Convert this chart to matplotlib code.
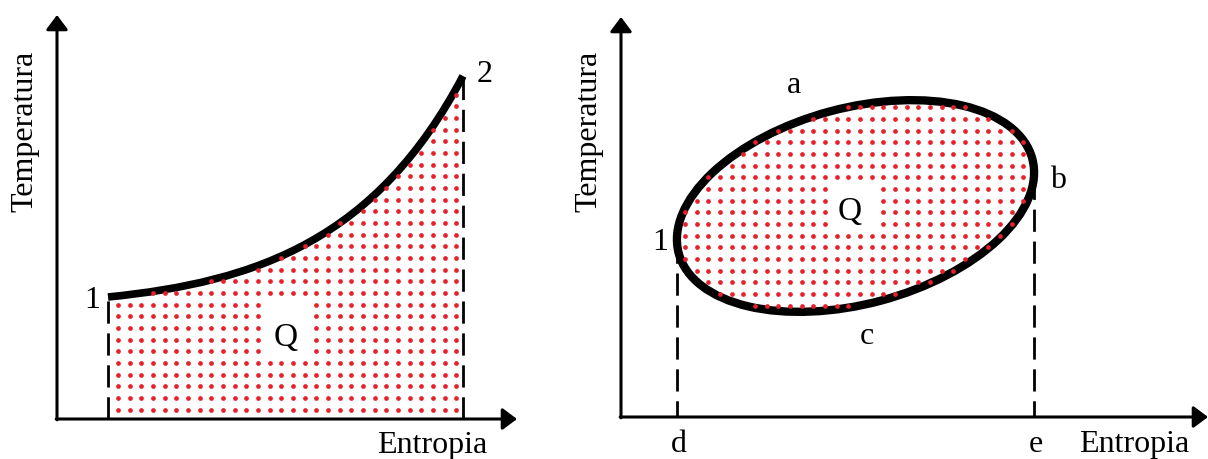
import numpy as np
import matplotlib.pyplot as plt
from matplotlib.path import Path
from matplotlib.patches import PathPatch, Ellipse

plt.rcParams['font.family'] = ['Liberation Serif', 'DejaVu Serif']
plt.rcParams['lines.scale_dashes'] = False

# Diagrama 1-2: calentamiento (entropia, temperatura)
s_12 = [51, 406]
T_12 = [122, 343]
ctrl_12 = [(201, 137), (320, 180)]   # puntos de control de la curva 1-2

# Diagrama del ciclo 1-a-b-c
cycle_center = (234.5, 211)
cycle_size = (366, 196)
cycle_angle = 15

DOT_STEP = 11.67
DOT_COLOR = '#e8202a'
FS = 23


def draw_axes(ax, xmax, ymax):
    for end in [(xmax, 0), (0, ymax)]:
        ax.annotate('', xy=end, xytext=(-0.8, 0) if end[1] == 0 else (0, -0.8),
                    annotation_clip=False,
                    arrowprops=dict(arrowstyle='-|>,head_length=0.4,head_width=0.3',
                                    mutation_scale=22, lw=2.2, color='black',
                                    shrinkA=0, shrinkB=0))


def dot_grid(x0, y0, xmax, ymax):
    xs = np.arange(x0, xmax, DOT_STEP)
    ys = np.arange(y0, ymax, DOT_STEP)
    gx, gy = np.meshgrid(xs, ys)
    return np.column_stack([gx.ravel(), gy.ravel()])


def drop_box(pts, cx, cy, w, h):
    keep = (np.abs(pts[:, 0] - cx) > w / 2) | (np.abs(pts[:, 1] - cy) > h / 2)
    return pts[keep]


fig = plt.figure(figsize=(12.08, 4.6), dpi=100)

# --- izquierda: proceso 1-2 ---
axL = fig.add_axes([57 / 1208, 40 / 460, 460 / 1208, 404 / 460])
axL.set_xlim(0, 460)
axL.set_ylim(0, 404)
axL.axis('off')

curve = Path([(s_12[0], T_12[0]), ctrl_12[0], ctrl_12[1], (s_12[1], T_12[1])],
             [Path.MOVETO, Path.CURVE4, Path.CURVE4, Path.CURVE4])
region = Path([(s_12[0], T_12[0]), ctrl_12[0], ctrl_12[1], (s_12[1], T_12[1]),
               (s_12[1], 0), (s_12[0], 0), (s_12[0], T_12[0])],
              [Path.MOVETO, Path.CURVE4, Path.CURVE4, Path.CURVE4,
               Path.LINETO, Path.LINETO, Path.CLOSEPOLY])
pts = dot_grid(2.65, 9.3, 460, 404)
poly = region.to_polygons()[0]
pts = pts[Path(poly).contains_points(pts)]
pts = drop_box(pts, 228.5, 91.5, 47, 59)
axL.plot(pts[:, 0], pts[:, 1], 'o', ms=3.4, mew=0, color=DOT_COLOR)

for s, T_top in zip(s_12, T_12):
    axL.plot([s, s], [0, T_top], color='black', lw=2, ls=(0, (16, 7)),
             solid_capstyle='butt', dash_capstyle='butt')
axL.add_patch(PathPatch(curve, fc='none', ec='black', lw=5.5, capstyle='butt'))
draw_axes(axL, 460, 404)

axL.text(35, 112, '1', fontsize=FS, ha='center', va='baseline')
axL.text(428, 338, '2', fontsize=FS, ha='center', va='baseline')
axL.text(229, 74, 'Q', fontsize=FS + 1, ha='center', va='baseline')
axL.text(375.5, -33, 'Entropia', fontsize=FS, ha='center', va='baseline')
axL.text(-32, 288.5, 'Temperatura', fontsize=FS, ha='center', va='center',
         rotation=90)

# --- derecha: ciclo ---
axR = fig.add_axes([621 / 1208, 42 / 460, 587 / 1208, 400 / 460])
axR.set_xlim(0, 587)
axR.set_ylim(0, 400)
axR.axis('off')

ell = Ellipse(cycle_center, cycle_size[0], cycle_size[1], angle=cycle_angle,
              fc='none', ec='black', lw=6)
ell_path = ell.get_patch_transform().transform_path(ell.get_path())
pts = dot_grid(5.68, 6.24, 587, 400)
pts = pts[ell_path.contains_points(pts)]
pts = drop_box(pts, 232, 210.5, 46, 47)
axR.plot(pts[:, 0], pts[:, 1], 'o', ms=3.4, mew=0, color=DOT_COLOR)

# puntos de tangencia vertical (s minima y maxima del ciclo)
a, b = cycle_size[0] / 2, cycle_size[1] / 2
th = np.radians(cycle_angle)
m11 = a**2 * np.cos(th)**2 + b**2 * np.sin(th)**2
m21 = (a**2 - b**2) * np.sin(th) * np.cos(th)
for sign in (-1, 1):
    s = cycle_center[0] + sign * np.sqrt(m11)
    T = cycle_center[1] + sign * m21 / np.sqrt(m11)
    axR.plot([s, s], [-6, T], color='black', lw=2, ls=(0, (16, 7)),
             dash_capstyle='butt', solid_capstyle='butt')
axR.add_patch(ell)
draw_axes(axR, 587, 400)

axR.text(173, 325, 'a', fontsize=FS, ha='center', va='baseline')
axR.text(437, 230, 'b', fontsize=FS, ha='center', va='baseline')
axR.text(246, 74, 'c', fontsize=FS, ha='center', va='baseline')
axR.text(39, 168, '1', fontsize=FS, ha='center', va='baseline')
axR.text(229, 198, 'Q', fontsize=FS + 1, ha='center', va='baseline')
axR.text(58, -34, 'd', fontsize=FS, ha='center', va='baseline')
axR.text(415, -34, 'e', fontsize=FS, ha='center', va='baseline')
axR.text(513, -34, 'Entropia', fontsize=FS, ha='center', va='baseline')
axR.text(-32, 286.5, 'Temperatura', fontsize=FS, ha='center', va='center',
         rotation=90)

fig.savefig('out.png', dpi=100)
